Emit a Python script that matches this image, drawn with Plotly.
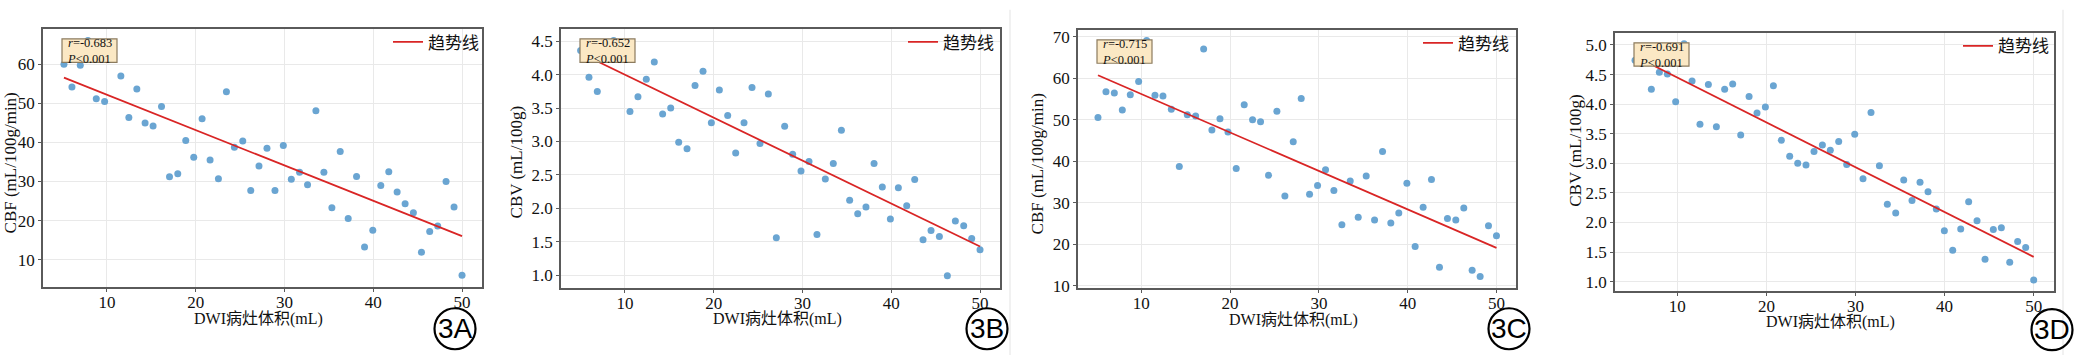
import plotly.graph_objects as go

W, H = 2079, 363

# ---------------- data ----------------
xA = [5.16, 6.06, 7.0, 7.86, 8.8, 9.74, 11.57, 12.47, 13.37, 14.3, 15.2, 16.15, 17.05, 17.98, 18.88,
      19.78, 20.72, 21.62, 22.56, 23.46, 24.36, 25.3, 26.2, 27.13, 28.03, 28.93, 29.87, 30.77, 31.7,
      32.6, 33.54, 34.44, 35.34, 36.28, 37.18, 38.12, 39.02, 39.95, 40.85, 41.75, 42.69, 43.59, 44.52,
      45.43, 46.36, 47.26, 48.2, 49.1, 50.0]
yA = [60.0, 54.2, 59.75, 66.1, 51.2, 50.5, 57.0, 46.4, 53.7, 45.0, 44.2, 49.2, 31.2, 32.0, 40.5,
      36.2, 46.1, 35.5, 30.7, 53.0, 38.8, 40.4, 27.7, 34.0, 38.5, 27.7, 39.2, 30.6, 32.4,
      29.2, 48.1, 32.4, 23.3, 37.7, 20.5, 31.3, 13.2, 17.5, 29.0, 32.5, 27.3, 24.3, 22.0,
      11.9, 17.2, 18.6, 30.0, 23.5, 6.0]
trendA_x = [5.16, 50.0]
trendA_y = [56.6, 16.0]

xB = [5.0, 5.94, 6.88, 8.72, 10.56, 11.46, 12.4, 13.3, 14.24, 15.15, 16.05, 16.99, 17.89, 18.79,
      19.73, 20.63, 21.57, 22.47, 23.41, 24.31, 25.21, 26.15, 27.05, 27.99, 28.89, 29.83, 30.73,
      31.63, 32.57, 33.47, 34.38, 35.31, 36.22, 37.15, 38.06, 38.99, 39.9, 40.8, 41.74, 42.64,
      43.58, 44.48, 45.42, 46.32, 47.22, 48.16, 49.06, 50.0]
yB = [4.36, 3.96, 3.75, 4.51, 3.45, 3.67, 3.93, 4.19, 3.41, 3.5, 2.99, 2.89, 3.84, 4.05,
      3.28, 3.77, 3.39, 2.83, 3.28, 3.81, 2.97, 3.71, 1.56, 3.23, 2.81, 2.56, 2.70,
      1.61, 2.44, 2.67, 3.17, 2.12, 1.92, 2.02, 2.67, 2.32, 1.84, 2.31, 2.04, 2.43,
      1.53, 1.67, 1.58, 0.99, 1.81, 1.74, 1.55, 1.38]
trendB_x = [5.0, 50.0]
trendB_y = [4.32, 1.43]

xC = [5.12, 6.02, 6.96, 7.86, 8.76, 9.7, 10.6, 11.54, 12.44, 13.38, 14.28, 15.18, 16.12, 17.02,
      17.95, 18.86, 19.76, 20.69, 21.59, 22.53, 23.43, 24.33, 25.27, 26.17, 27.11, 28.01, 28.95,
      29.85, 30.75, 31.69, 32.59, 33.53, 34.43, 35.33, 36.27, 37.17, 38.1, 39.0, 39.91, 40.84,
      41.74, 42.68, 43.58, 44.48, 45.42, 46.32, 47.26, 48.16, 49.1, 50.0]
yC = [50.5, 56.7, 56.4, 52.3, 56.0, 59.2, 69.1, 55.9, 55.7, 52.5, 38.7, 51.2, 50.9, 67.0,
      47.5, 50.2, 47.0, 38.2, 53.6, 50.0, 49.5, 36.6, 52.0, 31.6, 44.7, 55.1, 32.0,
      34.1, 37.9, 32.9, 24.7, 35.2, 26.5, 36.4, 25.8, 42.3, 25.1, 27.5, 34.7, 19.45,
      28.9, 35.6, 14.4, 26.2, 25.8, 28.7, 13.7, 12.2, 24.4, 22.0]
trendC_x = [5.12, 50.0]
trendC_y = [60.7, 19.1]

xD = [5.25, 7.08, 7.98, 8.88, 9.81, 10.75, 11.65, 12.54, 13.48, 14.38, 15.31, 16.21, 17.11, 18.05,
      18.94, 19.88, 20.78, 21.67, 22.61, 23.51, 24.44, 25.34, 26.28, 27.17, 28.11, 29.01, 29.91,
      30.84, 31.74, 32.68, 33.57, 34.51, 35.41, 36.34, 37.24, 38.14, 39.07, 39.97, 40.91, 41.81,
      42.7, 43.64, 44.54, 45.47, 46.37, 47.31, 48.2, 49.1, 50.0]
yD = [4.74, 4.25, 4.54, 4.51, 4.04, 5.02, 4.39, 3.66, 4.33, 3.62, 4.25, 4.34, 3.48, 4.13,
      3.85, 3.95, 4.31, 3.39, 3.12, 3.0, 2.97, 3.2, 3.31, 3.22, 3.37, 2.98, 3.49,
      2.74, 3.86, 2.96, 2.31, 2.16, 2.72, 2.37, 2.68, 2.52, 2.23, 1.86, 1.53, 1.89,
      2.35, 2.03, 1.38, 1.88, 1.91, 1.33, 1.68, 1.58, 1.03]
trendD_x = [5.25, 50.0]
trendD_y = [4.81, 1.42]

y_titles = ["CBF (mL/100g/min)", "CBV (mL/100g)", "CBF (mL/100g/min)", "CBV (mL/100g)"]
x_title = "DWI病灶体积(mL)"
stats = [("-0.683", "0.001"), ("-0.652", "0.001"), ("-0.715", "0.001"), ("-0.691", "0.001")]
panel_labels = ["3A", "3B", "3C", "3D"]
legend_name = "趋势线"

# ---------------- layout geometry (pixels) ----------------
panels = [
    dict(x=xA, y=yA, tx=trendA_x, ty=trendA_y, box=(43, 482, 28, 293), xr=[2.8, 52.25], yr=[3.0, 69.0],
         yfmt="d", ydt=10, ytitle_px=(10, 166), xtitle_px=(258, 326), label_px=(455, 336),
         legend_right=484),
    dict(x=xB, y=yB, tx=trendB_x, ty=trendB_y, box=(561, 1000, 28, 294), xr=[2.79, 52.25], yr=[0.81, 4.68],
         yfmt=".1f", ydt=0.5, ytitle_px=(516, 165), xtitle_px=(777, 326), label_px=(987, 336),
         legend_right=999),
    dict(x=xC, y=yC, tx=trendC_x, ty=trendC_y, box=(1078, 1516, 29, 294), xr=[2.87, 52.2], yr=[9.45, 71.56],
         yfmt="d", ydt=10, ytitle_px=(1037, 167), xtitle_px=(1293, 327), label_px=(1509, 336),
         legend_right=1514),
    dict(x=xD, y=yD, tx=trendD_x, ty=trendD_y, box=(1615, 2054, 32, 297), xr=[3.0, 52.28], yr=[0.846, 5.2],
         yfmt=".1f", ydt=0.5, ytitle_px=(1576, 153), xtitle_px=(1830, 329), label_px=(2052, 337),
         legend_right=2054),
]
separators_px = [1010, 2063]  # faint seams between the source images

def fx(px):
    return px / W

def fy(py):
    return 1 - py / H

SERIF = "Liberation Serif, Times New Roman, Noto Sans CJK SC, serif"
CJK = "Liberation Serif, Noto Sans CJK SC, serif"
POINT = "#62a0d0"
RED = "#d92525"
AXC = "#5a5a5a"

fig = go.Figure()
layout = dict(width=W, height=H, margin=dict(l=0, r=0, t=0, b=0),
              paper_bgcolor="white", plot_bgcolor="white", showlegend=True)
annotations = []
shapes = []

for sx in separators_px:
    shapes.append(dict(type="line", xref="paper", yref="paper", x0=fx(sx), x1=fx(sx),
                       y0=0, y1=fy(8), line=dict(color="#f1f1f1", width=2), layer="below"))

for i, p in enumerate(panels):
    n = "" if i == 0 else str(i + 1)
    xa, ya = "x" + n, "y" + n
    leg = "legend" + n
    fig.add_trace(go.Scatter(x=p["x"], y=p["y"], mode="markers", xaxis=xa, yaxis=ya,
                             marker=dict(size=7, color=POINT, opacity=0.95), showlegend=False))
    fig.add_trace(go.Scatter(x=p["tx"], y=p["ty"], mode="lines", xaxis=xa, yaxis=ya,
                             line=dict(color=RED, width=1.8), name=legend_name, legend=leg,
                             showlegend=True))
    x0, x1, y0, y1 = p["box"]
    common = dict(showline=True, linecolor=AXC, linewidth=1.5, mirror=True,
                  ticks="outside", ticklen=3, tickcolor=AXC, tickwidth=1,
                  showgrid=True, gridcolor="#e9e9e9", gridwidth=1, zeroline=False,
                  tickfont=dict(family=SERIF, size=17, color="#111111"))
    layout["xaxis" + n] = dict(domain=[fx(x0), fx(x1)], range=p["xr"], anchor=ya, dtick=10,
                               tick0=0, ticklabelstandoff=-4, **common)
    layout["yaxis" + n] = dict(domain=[fy(y1), fy(y0)], range=p["yr"], anchor=xa,
                               dtick=p["ydt"], tick0=0, tickformat=p["yfmt"], **common)
    layout[leg] = dict(x=fx(p["legend_right"]), y=fy(y0 - 5), xanchor="right", yanchor="top",
                       bgcolor="rgba(0,0,0,0)", borderwidth=0,
                       font=dict(family=CJK, size=17, color="#111111"))
    # axis titles
    tx_, ty_ = p["ytitle_px"]
    annotations.append(dict(text=y_titles[i], x=fx(tx_), y=fy(ty_), xref="paper", yref="paper",
                            xanchor="center", yanchor="middle", textangle=-90, showarrow=False,
                            font=dict(family=SERIF, size=17, color="#111111")))
    tx_, ty_ = p["xtitle_px"]
    annotations.append(dict(text=x_title, x=fx(tx_), y=fy(ty_), xref="paper", yref="paper",
                            xanchor="center", yanchor="middle", showarrow=False,
                            font=dict(family=CJK, size=16, color="#111111")))
    # stats box (background rect above the points, text on top)
    shapes.append(dict(type="rect", xref="paper", yref="paper", layer="above",
                       x0=fx(x0 + 19), x1=fx(x0 + 74), y0=fy(y0 + 34), y1=fy(y0 + 10),
                       fillcolor="#fbe8c4", line=dict(color="#8c7b5e", width=1.2)))
    r, pv = stats[i]
    annotations.append(dict(text="<i>r</i>=" + r + "<br><i>P</i>&lt;" + pv,
                            x=fx(x0 + 22), y=fy(y0 + 22), xref="paper", yref="paper",
                            xanchor="left", yanchor="middle", align="left", showarrow=False,
                            font=dict(family=SERIF, size=12.5, color="#111111")))
    # circled panel label
    lx, ly = p["label_px"]
    shapes.append(dict(type="circle", xref="paper", yref="paper", xsizemode="pixel",
                       ysizemode="pixel", xanchor=fx(lx), yanchor=fy(ly),
                       x0=-20.5, x1=20.5, y0=-20.5, y1=20.5, line=dict(color="black", width=2.2),
                       fillcolor="rgba(0,0,0,0)"))
    annotations.append(dict(text=panel_labels[i], x=fx(lx), y=fy(ly), xref="paper", yref="paper",
                            xanchor="center", yanchor="middle", showarrow=False,
                            font=dict(family="Liberation Sans, Arial, sans-serif", size=28,
                                      color="black")))

layout["annotations"] = annotations
layout["shapes"] = shapes
fig.update_layout(**layout)
fig.write_html("out.html", config={"displayModeBar": False},
               post_script="document.body.style.margin='0';document.body.style.overflow='hidden';")
